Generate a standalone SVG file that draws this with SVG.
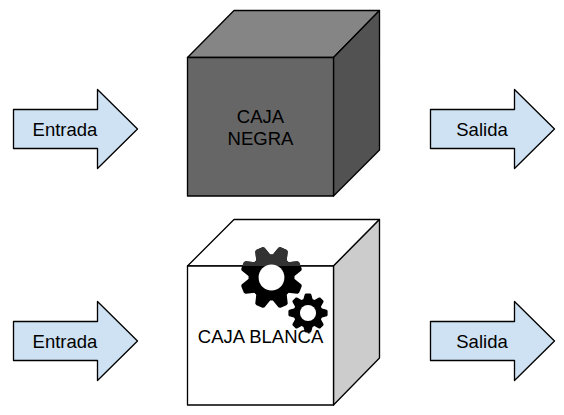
<svg xmlns="http://www.w3.org/2000/svg" xmlns:xlink="http://www.w3.org/1999/xlink" width="564" height="415" viewBox="0 0 564 415">
<style>
.ln{stroke:#000;stroke-width:1.33;stroke-linejoin:round}
.arrow{fill:#cfe2f3}
text{font-family:"Liberation Sans",Arial,sans-serif;font-size:18.5px;fill:#000;text-anchor:middle}
</style>
<defs>
<polygon id="arrowShape" class="ln arrow" points="13.5,109.5 97.5,109.5 97.5,89.5 137.5,129 97.5,168.5 97.5,148.5 13.5,148.5"/>
<polygon id="tooth" points="0.66,-0.21 0.94,-0.13 0.96,-0.1 0.96,0.1 0.94,0.13 0.66,0.21"/>
<g id="gear" stroke-width="0.07" stroke-linejoin="round">
<circle r="0.73" stroke="none"/>
<use xlink:href="#tooth"/><use xlink:href="#tooth" transform="rotate(45)"/><use xlink:href="#tooth" transform="rotate(90)"/><use xlink:href="#tooth" transform="rotate(135)"/><use xlink:href="#tooth" transform="rotate(180)"/><use xlink:href="#tooth" transform="rotate(225)"/><use xlink:href="#tooth" transform="rotate(270)"/><use xlink:href="#tooth" transform="rotate(315)"/>
<circle r="0.41" fill="#fff" stroke="none"/>
</g>
<clipPath id="above"><rect x="230" y="240" width="90" height="26"/></clipPath>
</defs>
<g id="entrada-top"><use xlink:href="#arrowShape"/><text x="65" y="136">Entrada</text></g>
<g id="salida-top"><use xlink:href="#arrowShape" transform="translate(417,0)"/><text x="482" y="136">Salida</text></g>
<g id="entrada-bottom"><use xlink:href="#arrowShape" transform="translate(0,212)"/><text x="65" y="348">Entrada</text></g>
<g id="salida-bottom"><use xlink:href="#arrowShape" transform="translate(417,212)"/><text x="482" y="348">Salida</text></g>
<g id="caja-negra">
<polygon class="ln" fill="#858585" points="187.5,57.5 234,10.5 379.5,10.5 333.5,57.5"/>
<polygon class="ln" fill="#525252" points="333.5,57.5 379.5,10.5 379.5,150 333.5,196"/>
<rect class="ln" fill="#666" x="187.5" y="57.5" width="146" height="138.5"/>
<text x="260.5" y="123">CAJA</text>
<text x="260.5" y="145">NEGRA</text>
</g>
<g id="caja-blanca">
<polygon class="ln" fill="#fff" points="187.5,266 234,219.5 379.5,219.5 333.5,266"/>
<polygon class="ln" fill="#ccc" points="333.5,266 379.5,219.5 379.5,358 333.5,405"/>
<rect class="ln" fill="#fff" x="187.5" y="266" width="146" height="139"/>
<text x="260.5" y="343">CAJA BLANCA</text>
</g>
<g id="engranajes">
<use xlink:href="#gear" transform="translate(271.5,277.5) rotate(22.5) scale(31.5)" fill="#000" stroke="#000"/>
<g clip-path="url(#above)"><use xlink:href="#gear" transform="translate(271.5,277.5) rotate(22.5) scale(31.5)" fill="#333" stroke="#333"/></g>
<use xlink:href="#gear" transform="translate(308,313) scale(19.7)" fill="#000" stroke="#000"/>
</g>
</svg>
